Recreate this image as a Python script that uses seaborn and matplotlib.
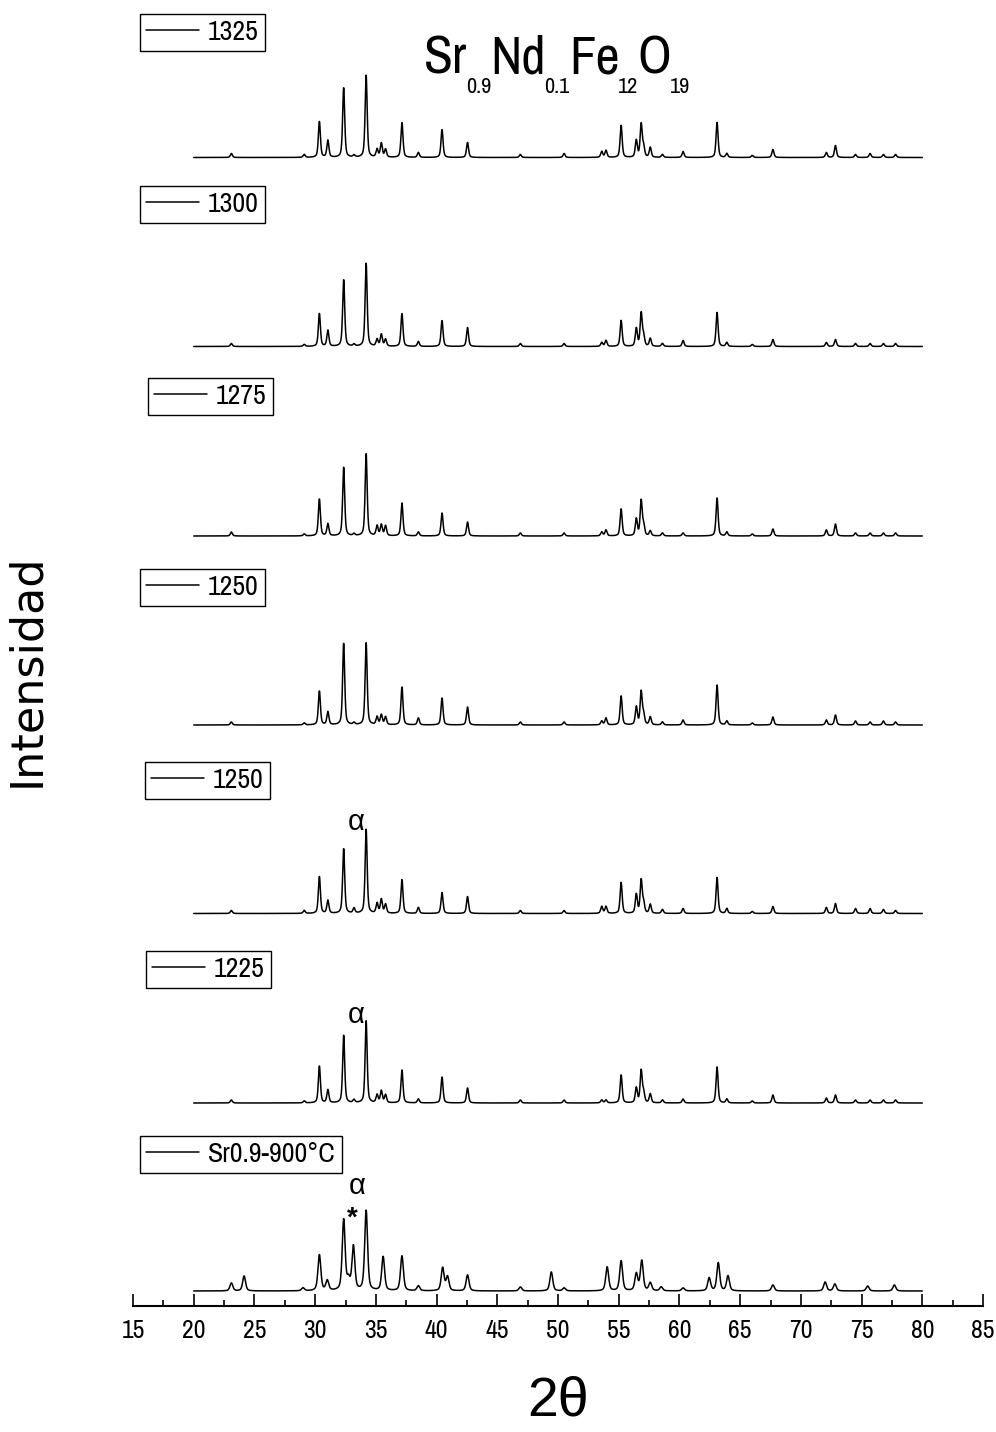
import numpy as np
import pandas as pd
import matplotlib
matplotlib.use("Agg")
import matplotlib.pyplot as plt
from matplotlib.legend import Legend
from matplotlib.lines import Line2D
from matplotlib.ticker import MultipleLocator
import seaborn as sns

# ---------------------------------------------------------------- data
# Reflection positions (2theta, deg) shared by the hexaferrite patterns
hexa_pos = [23.1, 29.1, 30.35, 31.05, 32.35, 33.2, 34.2, 35.1, 35.45, 35.8,
            37.15, 38.5, 40.45, 42.55, 46.9, 50.5, 53.6, 53.95, 55.2, 56.45,
            56.85, 57.05, 57.6, 58.6, 60.3, 63.1, 63.9, 66.0, 67.7, 72.1,
            72.85, 74.5, 75.7, 76.8, 77.8]

# Peak intensities (a.u.) for each sintering temperature
int_1325 = [4, 3, 36, 17, 70, 2, 82, 8, 14, 8, 35, 5, 28, 15, 3, 4, 6, 7, 32,
            17, 33, 10, 10, 3, 6, 35, 4, 2, 8, 5, 12, 3, 4, 3, 3]
int_1300 = [3, 2, 33, 16, 67, 2, 83, 7, 12, 7, 33, 5, 26, 19, 3, 3, 4, 6, 26,
            18, 33, 10, 8, 3, 6, 34, 4, 2, 7, 4, 7, 3, 3, 3, 3]
int_1275 = [4, 2, 37, 12, 69, 2, 82, 10, 11, 10, 33, 4, 23, 14, 3, 3, 4, 6, 27,
            17, 35, 10, 5, 3, 3, 38, 4, 2, 7, 6, 12, 3, 3, 3, 3]
int_1250a = [3, 2, 34, 13, 82, 2, 82, 8, 10, 8, 38, 7, 27, 18, 3, 3, 4, 7, 29,
             18, 33, 10, 8, 3, 5, 40, 4, 2, 8, 5, 10, 4, 3, 4, 3]
int_1250b = [3, 3, 37, 13, 65, 5, 84, 10, 14, 9, 34, 6, 21, 17, 3, 3, 7, 7, 31,
             19, 33, 10, 9, 4, 5, 36, 5, 2, 7, 6, 10, 5, 5, 4, 3]
int_1225 = [3, 2, 37, 13, 68, 3, 82, 8, 12, 8, 33, 4, 26, 15, 3, 3, 3, 3, 28,
            15, 32, 10, 9, 3, 4, 36, 4, 2, 8, 5, 8, 3, 3, 3, 3]

# Precursor calcined at 900 C (hexaferrite + hematite + carbonate)
pos_900 = [23.1, 24.15, 29.0, 30.35, 31.0, 32.35, 32.75, 33.15, 34.2, 35.6,
           37.15, 38.5, 40.5, 40.9, 42.55, 46.9, 49.45, 50.5, 54.05, 55.2,
           56.45, 56.9, 57.6, 58.5, 60.3, 62.45, 63.2, 64.0, 67.7, 72.0,
           72.8, 75.5, 77.7]
int_900 = [8, 15, 3, 36, 10, 71, 10, 44, 80, 34, 35, 5, 23, 14, 16, 4, 19, 3,
           24, 30, 17, 30, 8, 4, 3, 13, 28, 15, 6, 9, 7, 5, 6]

sample_labels = ["1325", "1300", "1275", "1250", "1250", "1225", "Sr0.9-900\u00b0C"]
peak_sets = [(hexa_pos, int_1325), (hexa_pos, int_1300), (hexa_pos, int_1275),
             (hexa_pos, int_1250a), (hexa_pos, int_1250b), (hexa_pos, int_1225),
             (pos_900, int_900)]
peak_fwhm = [0.20, 0.20, 0.20, 0.20, 0.20, 0.20, 0.28]

# vertical stacking of the patterns (top to bottom)
stack_offset = [1148.5, 959.5, 770.0, 581.0, 392.5, 203.0, 15.0]

# reflections flagged with alpha (hematite) and * markers: (2theta, pattern, height)
alpha_marks = [(33.35, 4, 92), (33.35, 5, 88), (33.5, 6, 105)]
star_mark = (33.08, 6, 72)

two_theta = np.arange(20.0, 80.0 + 1e-9, 0.02)


def pattern(pos, amp, fwhm):
    """Pseudo-Voigt sum of the listed reflections."""
    x = two_theta[:, None]
    p = np.asarray(pos)[None, :]
    a = np.asarray(amp)[None, :]
    hw = fwhm / 2.0
    lor = 1.0 / (1.0 + ((x - p) / hw) ** 2)
    gau = np.exp(-np.log(2) * ((x - p) / hw) ** 2)
    return (a * (0.5 * lor + 0.5 * gau)).sum(axis=1)


frames = []
for k, ((pos, amp), w) in enumerate(zip(peak_sets, peak_fwhm)):
    frames.append(pd.DataFrame({"two_theta": two_theta,
                                "intensity": pattern(pos, amp, w) + stack_offset[k],
                                "sample": k}))
df = pd.concat(frames, ignore_index=True)

# ---------------------------------------------------------------- figure
W, H = 996, 1432
sns.set_style("white")
narrow = ["Archivo Narrow", "Liberation Sans", "DejaVu Sans"]
greek = ["Liberation Sans", "DejaVu Sans"]
plt.rcParams["font.family"] = narrow
plt.rcParams["text.color"] = "black"
plt.rcParams["axes.labelcolor"] = "black"
plt.rcParams["xtick.color"] = "black"
plt.rcParams["axes.edgecolor"] = "black"

fig = plt.figure(figsize=(W / 100, H / 100), dpi=100)
ax = fig.add_axes([133 / W, 1 - 1306 / H, (983 - 133) / W, (1306 - 10) / H])

for k in range(len(peak_sets)):
    sns.lineplot(data=df[df["sample"] == k], x="two_theta", y="intensity",
                 color="black", linewidth=1.1, estimator=None, ax=ax,
                 legend=False)

ax.set_xlim(15, 85)
ax.set_ylim(0, 1296)
for side in ("left", "right", "top"):
    ax.spines[side].set_visible(False)
ax.spines["bottom"].set_linewidth(1.5)
ax.xaxis.set_major_locator(MultipleLocator(5))
ax.xaxis.set_minor_locator(MultipleLocator(2.5))
ax.tick_params(axis="x", which="major", direction="in", length=9, width=1.2,
               labelsize=18.5, pad=9, colors="black", bottom=True)
ax.tick_params(axis="x", which="minor", direction="in", length=4.5, width=1.2,
               bottom=True)
ax.set_yticks([])
ax.set_xlabel("")
ax.set_ylabel("")

# alpha / * annotations
for xa, k, h in alpha_marks:
    ax.text(xa, stack_offset[k] + h, "\u03b1", ha="center", va="center",
            fontsize=21, family=greek)
ax.text(star_mark[0], stack_offset[star_mark[1]] + star_mark[2], "*",
        ha="center", va="center", fontsize=20, fontweight="bold", family=greek)

# one boxed legend per pattern
legend_boxes = [(140, 14), (140, 186), (148, 378), (140, 569), (145, 762),
                (146, 951), (140, 1136)]
for label, (lx, ly) in zip(sample_labels, legend_boxes):
    handle = Line2D([], [], color="black", linewidth=1.1)
    leg = Legend(ax, [handle], [label], loc="upper left",
                 bbox_to_anchor=(lx / W, 1 - ly / H),
                 bbox_transform=fig.transFigure, frameon=True, fancybox=False,
                 shadow=False, framealpha=1, edgecolor="black",
                 handlelength=1.9, handletextpad=0.33, borderpad=0.22,
                 borderaxespad=0, prop={"family": narrow, "size": 20})
    leg.get_frame().set_linewidth(1.0)
    ax.add_artist(leg)

# axis titles
fig.text(27 / W, 1 - 670 / H, "Intensidad", rotation=90, ha="center",
         va="center", fontsize=32, family=["DejaVu Sans"])
fig.text(558 / W, 1 - 1402 / H, "2\u03b8", ha="center", va="center",
         fontsize=40, family=greek)

# chemical formula with lowered subscripts
renderer = fig.canvas.get_renderer()
runs = [("Sr", 38, 0), ("0.9", 16, 20), ("Nd", 38, 0), ("0.1", 16, 20),
        ("Fe", 38, 0), ("12", 16, 20), ("O", 38, 0), ("19", 16, 20)]
x_px = 424
base_px = 73
for txt, size, drop in runs:
    t = fig.text(x_px / W, 1 - (base_px + drop) / H, txt, fontsize=size,
                 ha="left", va="baseline")
    x_px += t.get_window_extent(renderer).width * 0.97

fig.savefig("out.png", dpi=100, facecolor="white")
